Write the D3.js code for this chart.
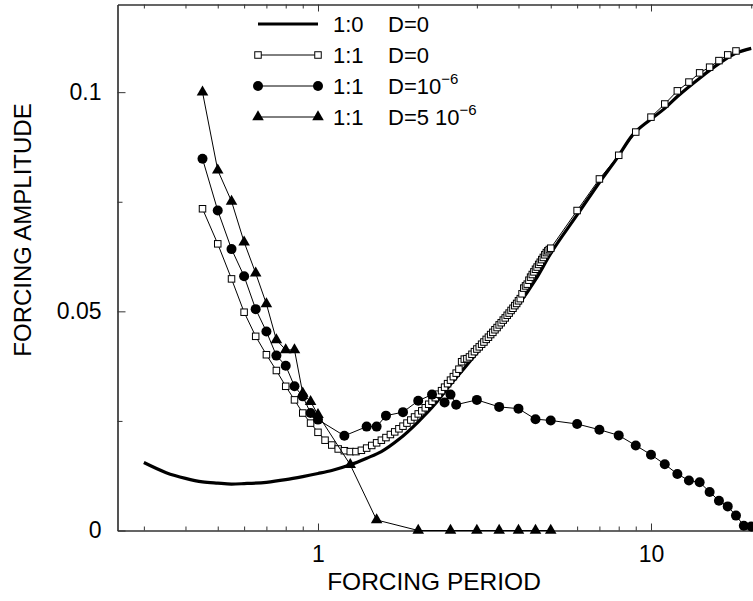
<!DOCTYPE html>
<html>
<head>
<meta charset="utf-8">
<script src="https://cdn.jsdelivr.net/npm/d3@7"></script>
<style>
  html, body { margin: 0; padding: 0; background: #fff; }
  svg { display: block; font-family: "Liberation Sans", Arial, Helvetica, sans-serif; }
</style>
</head>
<body>
<svg id="chart" width="753" height="601"></svg>
<script>
// ---------- data ----------
// 1:0, D=0 (thick curve)
const period10 = [0.30,0.35,0.40,0.45,0.50,0.55,0.60,0.70,0.80,0.90,1.00,1.10,1.25,1.40,1.55,1.75,2.00,2.25,2.50,2.75,3.00,3.50,4.00,4.50,5.00,6.00,7.00,7.90,8.80,9.90,11,12,14,16,18,20];
const amp10    = [0.0155,0.0132,0.0119,0.0111,0.0108,0.0106,0.0107,0.0110,0.0116,0.0123,0.0130,0.0137,0.0150,0.0165,0.0180,0.0208,0.0248,0.0289,0.0333,0.0370,0.0405,0.0462,0.0515,0.0572,0.0632,0.0720,0.0794,0.0849,0.0902,0.0936,0.0963,0.0990,0.1032,0.1065,0.1089,0.1100];

// 1:1, D=0 (open squares)
const period11D0 = [0.45,0.50,0.55,0.60,0.65,0.70,0.75,0.80,0.85,0.90,0.95,1.00,1.05,1.10,1.15,1.20,1.25,1.30,1.35,1.40,1.45,1.50,1.55,1.60,1.65,1.70,1.75,1.80,1.85,1.90,1.95,2.00,2.05,2.10,2.15,2.20,2.25,2.30,2.35,2.40,2.45,2.50,2.55,2.60,2.65,2.70,2.75,2.80,2.85,2.90,2.95,3.00,3.05,3.10,3.15,3.20,3.25,3.30,3.35,3.40,3.45,3.50,3.55,3.60,3.65,3.70,3.75,3.80,3.85,3.90,3.95,4.00,4.05,4.10,4.15,4.20,4.25,4.30,4.35,4.40,4.45,4.50,4.55,4.60,4.65,4.70,4.75,4.80,4.85,4.90,4.95,5.00,6,7,8,9,10,11,12,13,14,15,16,17,18];
const amp11D0    = [0.0734,0.0654,0.0574,0.0498,0.0443,0.0401,0.0365,0.0329,0.0298,0.0268,0.0245,0.0224,0.0206,0.0195,0.0186,0.0182,0.0180,0.0180,0.0183,0.0188,0.0194,0.0200,0.0206,0.0212,0.0219,0.0225,0.0232,0.0238,0.0245,0.0252,0.0259,0.0266,0.0273,0.0280,0.0288,0.0295,0.0303,0.0311,0.0319,0.0327,0.0335,0.0343,0.0351,0.0359,0.0368,0.0385,0.0391,0.0392,0.0396,0.0402,0.0408,0.0414,0.0419,0.0425,0.0430,0.0436,0.0441,0.0447,0.0452,0.0458,0.0463,0.0469,0.0474,0.0480,0.0485,0.0491,0.0496,0.0502,0.0507,0.0513,0.0518,0.0524,0.0529,0.0540,0.0553,0.0558,0.0562,0.0571,0.0578,0.0584,0.0590,0.0596,0.0601,0.0607,0.0612,0.0618,0.0623,0.0629,0.0634,0.0638,0.0641,0.0644,0.0730,0.0802,0.0856,0.0909,0.0943,0.0973,0.1003,0.1023,0.1044,0.1057,0.1072,0.1085,0.1094];

// 1:1, D=1e-6 (filled circles)
const period11D1 = [0.45,0.50,0.55,0.60,0.65,0.70,0.75,0.80,0.85,0.90,0.95,1.00,1.20,1.40,1.50,1.60,1.80,2.00,2.20,2.40,2.50,2.60,3.00,3.50,4.00,4.50,5.00,6,7,8,9,10,11,12,13,14,15,16,17,18,19,20];
const amp11D1    = [0.0848,0.0730,0.0642,0.0580,0.0505,0.0454,0.0399,0.0376,0.0329,0.0306,0.0268,0.0253,0.0216,0.0237,0.0237,0.0262,0.0270,0.0296,0.0310,0.0292,0.0310,0.0287,0.0298,0.0282,0.0278,0.0254,0.0251,0.0243,0.0230,0.0217,0.0194,0.0173,0.0151,0.0129,0.0114,0.0110,0.0088,0.0068,0.0055,0.0034,0.0011,0.0009];

// 1:1, D=5e-6 (filled triangles)
const period11D5 = [0.45,0.50,0.55,0.60,0.65,0.70,0.75,0.80,0.85,0.90,0.95,1.00,1.25,1.50,2.0,2.5,3.0,3.5,4.0,4.5,5.0];
const amp11D5    = [0.1000,0.0822,0.0751,0.0658,0.0587,0.0517,0.0435,0.0412,0.0412,0.0313,0.0294,0.0264,0.0150,0.0024,0,0,0,0,0,0,0];

// axes
const xMajorTicks = [1, 10];
const xMinorTicks = [0.3,0.4,0.5,0.6,0.7,0.8,0.9,2,3,4,5,6,7,8,9,20];
const yMajorTicks = [0, 0.05, 0.1];
const yTickLabels = ["0", "0.05", "0.1"];
const yMinorTicks = [0.025, 0.075];
const xTitle = "FORCING PERIOD";
const yTitle = "FORCING AMPLITUDE";
const legendLabels = ["1:0", "1:1", "1:1", "1:1"];

// ---------- drawing ----------
(function () {
const svg = d3.select("#chart");
const leftX = 117.5, bottomY = 530.5, topY = 4.5;
const decade = 333;
const x = d3.scaleLog().domain([0.25, 21]).range([leftX, leftX + decade * Math.log10(21 / 0.25)]);
const y = d3.scaleLinear().domain([0, 0.12]).range([bottomY, topY]);

const axisColor = "#333";
const tickFont = 23;

// bottom axis major
const gB = svg.append("g").attr("transform", `translate(0,${bottomY})`)
  .call(d3.axisBottom(x).tickValues(xMajorTicks).tickFormat(d3.format("d")).tickSizeInner(-7).tickSizeOuter(0).tickPadding(15));
gB.append("g").call(d3.axisBottom(x).tickValues(xMinorTicks).tickFormat("").tickSizeInner(-4).tickSizeOuter(0));
// top axis
const gT = svg.append("g").attr("transform", `translate(0,${topY})`)
  .call(d3.axisTop(x).tickValues(xMajorTicks).tickFormat("").tickSizeInner(-7).tickSizeOuter(0));
gT.append("g").call(d3.axisTop(x).tickValues(xMinorTicks).tickFormat("").tickSizeInner(-4).tickSizeOuter(0));
// left axis
const gL = svg.append("g").attr("transform", `translate(${leftX},0)`)
  .call(d3.axisLeft(y).tickValues(yMajorTicks).tickFormat((d, i) => yTickLabels[i]).tickSizeInner(-8).tickSizeOuter(0).tickPadding(16));
gL.append("g").call(d3.axisLeft(y).tickValues(yMinorTicks).tickFormat("").tickSizeInner(-5).tickSizeOuter(0));

svg.selectAll(".domain").attr("stroke", axisColor).attr("stroke-width", 1.2);
svg.selectAll(".tick line").attr("stroke", axisColor);
svg.selectAll(".tick text").attr("font-size", tickFont).attr("fill", "#000")
  .attr("font-family", "Liberation Sans, Arial, sans-serif");

// axis titles
svg.append("text").attr("x", 434).attr("y", 590).attr("text-anchor", "middle")
  .attr("font-size", 24.5).text(xTitle);
svg.append("text").attr("transform", "translate(31,230) rotate(-90)").attr("text-anchor", "middle")
  .attr("font-size", 24).text(yTitle);

const plot = svg.append("g");

function series(px, py) { return px.map((p, i) => ({ p, a: py[i] })); }
const s10 = series(period10, amp10);
const sD0 = series(period11D0, amp11D0);
const sD1 = series(period11D1, amp11D1);
const sD5 = series(period11D5, amp11D5);

const lineSmooth = d3.line().x(d => x(d.p)).y(d => y(d.a)).curve(d3.curveMonotoneX);
const lineStraight = d3.line().x(d => x(d.p)).y(d => y(d.a));

// thick 1:0 curve
plot.append("path").attr("d", lineSmooth(s10)).attr("fill", "none").attr("stroke", "#000").attr("stroke-width", 3.2);

// squares
plot.append("path").attr("d", lineStraight(sD0)).attr("fill", "none").attr("stroke", "#000").attr("stroke-width", 1);
const sq = 6.5;
plot.selectAll("rect.sq").data(sD0).enter().append("rect")
  .attr("x", d => x(d.p) - sq / 2).attr("y", d => y(d.a) - sq / 2)
  .attr("width", sq).attr("height", sq).attr("fill", "#fff").attr("stroke", "#000").attr("stroke-width", 1);

// circles
plot.append("path").attr("d", lineStraight(sD1)).attr("fill", "none").attr("stroke", "#000").attr("stroke-width", 1);
plot.selectAll("circle.c").data(sD1).enter().append("circle")
  .attr("cx", d => x(d.p)).attr("cy", d => y(d.a)).attr("r", 5).attr("fill", "#000");

// triangles
const tri = d3.symbol().type(d3.symbolTriangle).size(58);
plot.append("path").attr("d", lineStraight(sD5)).attr("fill", "none").attr("stroke", "#000").attr("stroke-width", 1);
plot.selectAll("path.t").data(sD5).enter().append("path")
  .attr("d", tri).attr("transform", d => `translate(${x(d.p)},${y(d.a)})`).attr("fill", "#000");

// legend
const lg = svg.append("g");
const lx1 = 258, lx2 = 318, rows = [24, 55, 86, 117];
const fs = 22;
lg.append("line").attr("x1", lx1).attr("x2", lx2).attr("y1", rows[0]).attr("y2", rows[0]).attr("stroke", "#000").attr("stroke-width", 3.2);
[1, 2, 3].forEach(k => lg.append("line").attr("x1", lx1).attr("x2", lx2).attr("y1", rows[k]).attr("y2", rows[k]).attr("stroke", "#000").attr("stroke-width", 1));
[lx1, lx2].forEach(xx => {
  lg.append("rect").attr("x", xx - sq / 2).attr("y", rows[1] - sq / 2).attr("width", sq).attr("height", sq)
    .attr("fill", "#fff").attr("stroke", "#000");
  lg.append("circle").attr("cx", xx).attr("cy", rows[2]).attr("r", 5).attr("fill", "#000");
  lg.append("path").attr("d", tri).attr("transform", `translate(${xx},${rows[3]})`).attr("fill", "#000");
});
legendLabels.forEach((t, i) => {
  lg.append("text").attr("x", 333).attr("y", rows[i] + 8).attr("font-size", fs).text(t);
});
const dText = [["D=0"], ["D=0"], ["D=10", "−6"], ["D=5 10", "−6"]];
dText.forEach((parts, i) => {
  const t = lg.append("text").attr("x", 388).attr("y", rows[i] + 8).attr("font-size", fs);
  t.append("tspan").text(parts[0]);
  if (parts[1]) t.append("tspan").attr("dy", -10).attr("font-size", 15).text(parts[1]);
});
})();
</script>
</body>
</html>
